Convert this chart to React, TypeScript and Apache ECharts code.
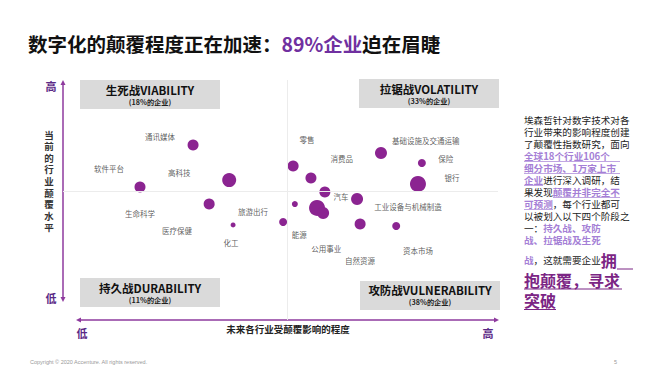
import React, { useEffect, useRef } from "react";
import * as echarts from "echarts";

// Industry bubbles: [x (future disruption susceptibility), y (current disruption level), size]
const bubbleValues: number[][] = [
  [17.7, 55.4, 11],
  [29.9, 72.9, 11],
  [38.2, 58.3, 14],
  [33.6, 48.3, 11],
  [39.1, 39.6, 5],
  [50.6, 40.8, 8],
  [52.9, 64.2, 11],
  [57.0, 59.2, 11],
  [60.2, 53.3, 11],
  [53.3, 48.3, 6],
  [58.4, 46.7, 16],
  [59.8, 44.6, 12],
  [67.6, 50.4, 12],
  [68.3, 40.0, 11],
  [76.6, 39.2, 8],
  [73.1, 69.6, 12],
  [82.5, 65.4, 8],
  [81.6, 56.7, 16],
];

// Industry labels and their positions
const industryNames: string[] = [
  "通讯媒体", "软件平台", "高科技", "生命科学", "医疗保健", "化工", "旅游出行",
  "零售", "消费品", "基础设施及交通运输", "保险", "银行", "汽车",
  "工业设备与机械制造", "能源", "公用事业", "自然资源", "资本市场",
];
const industryLabelPos: number[][] = [
  [22.3, 76.3], [10.6, 63.3], [26.7, 61.3], [17.7, 44.2], [26.2, 37.5], [38.6, 32.1], [43.7, 45.4],
  [56.1, 75.4], [64.1, 67.1], [83.4, 75.0], [88.0, 67.1], [89.4, 59.2], [63.9, 51.3],
  [79.3, 47.1], [54.3, 35.8], [60.5, 29.6], [68.3, 24.6], [81.6, 28.8],
];

const quadrantTitles: string[] = ["生死战VIABILITY", "拉锯战VOLATILITY", "持久战DURABILITY", "攻防战VULNERABILITY"];
const quadrantShares: string[] = ["(18%的企业)", "(33%的企业)", "(11%的企业)", "(38%的企业)"];

const dividerX = 51.5;
const dividerY = 53.75;

const FONT = '"Noto Sans CJK SC", "Noto Sans", sans-serif';
const PURPLE = "#8b2491";
const AXIS_PURPLE = "#8e3a9e";
const LIGHT = "#a57fd6";
const BIG = "#7b2584";

const sideLines: [string, string][][] = [
  [["n", "埃森哲针对数字技术对各"]],
  [["n", "行业带来的影响程度创建"]],
  [["n", "了颠覆性指数研究，面向"]],
  [["h", "全球18个行业106个"]],
  [["h", "细分市场、1万家上市"]],
  [["h", "企业"], ["n", "进行深入调研，结"]],
  [["n", "果发现"], ["h", "颠覆并非完全不"]],
  [["h", "可预测"], ["n", "，每个行业都可"]],
  [["n", "以被划入以下四个阶段之"]],
  [["n", "一："], ["h", "持久战、攻防"]],
  [["h", "战、拉锯战及生死"]],
  [["h", "战"], ["n", "，这就需要企业"], ["b", "拥"]],
  [["b", "抱颠覆，寻求"]],
  [["b", "突破"]],
];
const sideLineY = [120, 132, 144, 156, 168, 180, 192, 204, 216, 228, 240, 259.5, 279.5, 300];

export default function App() {
  const ref = useRef<HTMLDivElement>(null);
  useEffect(() => {
    document.body.style.margin = "0";
    if (!ref.current) return;
    const chart = echarts.init(ref.current, undefined, { renderer: "svg" });

    const boxes = [
      { x: 80, y: 80, cx: 150, ty: 89.5, sy: 102 },
      { x: 359, y: 79, cx: 429, ty: 88.5, sy: 101 },
      { x: 80, y: 278, cx: 150, ty: 287.5, sy: 300 },
      { x: 360, y: 281, cx: 430, ty: 289.5, sy: 302 },
    ];
    const graphics: any[] = [];
    // Title
    graphics.push({
      type: "text", left: 28, top: 34,
      style: {
        text: "{a|数字化的颠覆程度正在加速：}{b|89%企业}{a|迫在眉睫}",
        rich: {
          a: { fontSize: 19.5, fontWeight: "bold", fill: "#111", fontFamily: FONT },
          b: { fontSize: 19.5, fontWeight: "bold", fill: "#7030a0", fontFamily: FONT },
        },
      },
    });
    boxes.forEach((b, i) => {
      graphics.push({ type: "rect", shape: { x: b.x, y: b.y, width: 140, height: 29 }, style: { fill: "#dadada" } });
      graphics.push({ type: "text", x: b.cx, y: b.ty, style: { text: quadrantTitles[i], fontSize: 11.5, lineHeight: 11, fontWeight: "bold", fill: "#111", fontFamily: FONT, align: "center", verticalAlign: "middle" } });
      graphics.push({ type: "text", x: b.cx, y: b.sy, style: { text: quadrantShares[i], fontSize: 7.2, lineHeight: 8, fontWeight: "bold", fill: "#222", fontFamily: FONT, align: "center", verticalAlign: "middle" } });
    });
    // Vertical arrow
    graphics.push({ type: "line", shape: { x1: 63, y1: 83, x2: 63, y2: 299 }, style: { stroke: AXIS_PURPLE, lineWidth: 1.5 } });
    graphics.push({ type: "polygon", shape: { points: [[63, 80], [60.5, 85], [65.5, 85]] }, style: { fill: AXIS_PURPLE } });
    graphics.push({ type: "polygon", shape: { points: [[63, 302], [60.5, 297], [65.5, 297]] }, style: { fill: AXIS_PURPLE } });
    // Horizontal arrow
    graphics.push({ type: "line", shape: { x1: 79, y1: 320, x2: 496, y2: 320 }, style: { stroke: AXIS_PURPLE, lineWidth: 1.5 } });
    graphics.push({ type: "polygon", shape: { points: [[76, 320], [81, 317.5], [81, 322.5]] }, style: { fill: AXIS_PURPLE } });
    graphics.push({ type: "polygon", shape: { points: [[499, 320], [494, 317.5], [494, 322.5]] }, style: { fill: AXIS_PURPLE } });
    // Axis end labels
    const endLab = (t: string, x: number, y: number) => ({ type: "text", x, y, style: { text: t, fontSize: 11, fontWeight: "bold", fill: "#5b2a86", fontFamily: FONT, align: "center", verticalAlign: "middle" } });
    graphics.push(endLab("高", 51, 86));
    graphics.push(endLab("低", 51, 298));
    graphics.push(endLab("低", 82, 333));
    graphics.push(endLab("高", 488, 333));
    graphics.push({ type: "text", x: 49, y: 181, style: { text: "当前的行业颠覆水平".split("").join("\n"), fontSize: 9.5, lineHeight: 11.6, fontWeight: "bold", fill: "#333", fontFamily: FONT, align: "center", verticalAlign: "middle" } });
    graphics.push({ type: "text", x: 288, y: 329, style: { text: "未来各行业受颠覆影响的程度", fontSize: 9.5, fontWeight: "bold", fill: "#222", fontFamily: FONT, align: "center", verticalAlign: "middle" } });
    // Side text
    sideLines.forEach((line, i) => {
      graphics.push({
        type: "text", x: 524, y: sideLineY[i],
        style: {
          text: line.map(([k, t]) => `{${k}|${t}}`).join(""),
          verticalAlign: "middle",
          rich: {
            n: { fontSize: 9.6, lineHeight: 10, fill: "#222", fontFamily: FONT },
            h: { fontSize: 9.6, lineHeight: 10, fontWeight: "bold", fill: LIGHT, fontFamily: FONT },
            b: { fontSize: 16, lineHeight: 16, fontWeight: "bold", fill: BIG, fontFamily: FONT },
          },
        },
      });
    });
    const ul = (x1: number, x2: number, y: number, c: string, w: number) => ({ type: "line", shape: { x1, y1: y, x2, y2: y }, style: { stroke: c, lineWidth: w } });
    graphics.push(ul(524, 620, 161.5, LIGHT, 0.7));
    graphics.push(ul(524, 620, 173.5, LIGHT, 0.7));
    graphics.push(ul(524, 543, 185.5, LIGHT, 0.7));
    graphics.push(ul(553, 620, 197.5, LIGHT, 0.7));
    graphics.push(ul(524, 553, 209.5, LIGHT, 0.7));
    graphics.push(ul(617, 633, 269, BIG, 1));
    graphics.push(ul(524, 622, 289, BIG, 1));
    graphics.push(ul(524, 556, 309.5, BIG, 1));
    // Footer
    graphics.push({ type: "text", x: 30, y: 362, style: { text: "Copyright © 2020 Accenture. All rights reserved.", fontSize: 5.5, fill: "#999", fontFamily: "Arial, Liberation Sans, sans-serif", verticalAlign: "middle" } });
    graphics.push({ type: "text", x: 614, y: 362, style: { text: "5", fontSize: 5.5, fill: "#999", fontFamily: "Arial, Liberation Sans, sans-serif", verticalAlign: "middle" } });

    chart.setOption({
      animation: false,
      grid: { left: 63, right: 157, top: 80, bottom: 55 },
      xAxis: { type: "value", min: 0, max: 100, show: false },
      yAxis: { type: "value", min: 0, max: 100, show: false },
      series: [
        {
          type: "scatter",
          data: bubbleValues.map((v) => ({ value: [v[0], v[1]], symbolSize: v[2] })),
          itemStyle: { color: PURPLE, opacity: 1 },
          z: 3,
          markLine: {
            silent: true,
            symbol: "none",
            label: { show: false },
            lineStyle: { color: "#ececec", width: 1, type: "solid" },
            data: [{ yAxis: dividerY }, { xAxis: dividerX }],
          },
        },
        {
          type: "scatter",
          symbolSize: 1,
          itemStyle: { color: "rgba(0,0,0,0)" },
          data: industryNames.map((n, i) => ({ name: n, value: industryLabelPos[i] })),
          label: { show: true, position: "inside", formatter: "{b}", fontSize: 7.5, color: "#333", fontFamily: FONT },
          z: 4,
        },
      ],
      graphic: graphics,
    });
    return () => chart.dispose();
  }, []);
  return <div ref={ref} style={{ width: 655, height: 375 }} />;
}
